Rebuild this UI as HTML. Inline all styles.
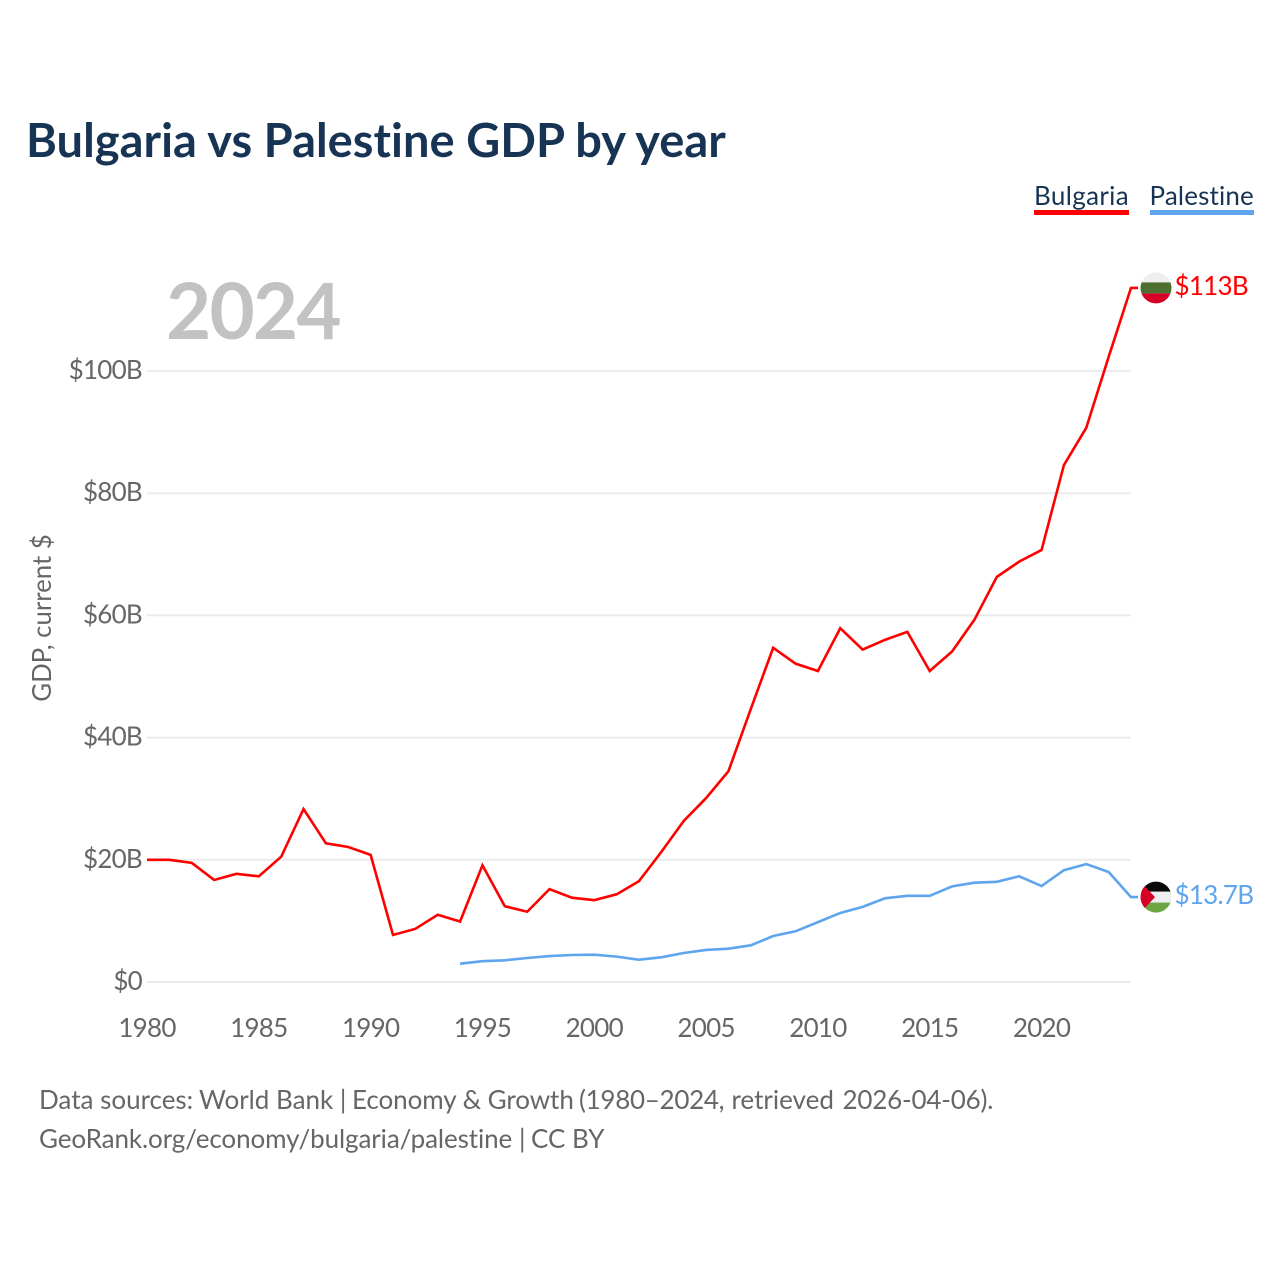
<!DOCTYPE html>
<html lang="en">
<head>
<meta charset="utf-8">
<title>Bulgaria vs Palestine GDP by year</title>
<style>
html,body{margin:0;padding:0;background:#fff;width:1280px;height:1280px;overflow:hidden}
svg{display:block}
text{font-family:"Lato","Carlito","Liberation Sans",sans-serif;font-variant-ligatures:none;font-variant-numeric:tabular-nums}
</style>
</head>
<body>
<svg id="chart" xmlns="http://www.w3.org/2000/svg" width="1280" height="1280" viewBox="0 0 1280 1280">
  <rect width="1280" height="1280" fill="#fff"/>
  <text x="26" y="157" font-size="47" font-weight="700" letter-spacing="0.03" fill="#173454">Bulgaria vs Palestine GDP by year</text>
  <g>
    <g>
      <text x="1034" y="205" font-size="26" letter-spacing="0.35" fill="#173454">Bulgaria</text>
      <rect x="1034" y="210" width="95" height="5" fill="#ff0000"/>
    </g>
    <g>
      <text x="1149.5" y="205" font-size="26" letter-spacing="0.15" fill="#173454">Palestine</text>
      <rect x="1150" y="210" width="104" height="5" fill="#5ea5ee"/>
    </g>
  </g>
  <text x="166" y="339" font-size="78" font-weight="700" letter-spacing="-1.8" fill="#c2c2c2">2024</text>
  <text transform="translate(51,618) rotate(-90)" text-anchor="middle" font-size="25.8" fill="#666">GDP, current $</text>
  <g id="grid"></g>
  <g id="yticks"></g>
  <g id="xticks"></g>
  <g id="series"></g>
  <defs>
    <clipPath id="clip-bg"><circle cx="0" cy="0" r="15.5"/></clipPath>
    <clipPath id="clip-ps"><circle cx="0" cy="0" r="15.5"/></clipPath>
  </defs>
  <g id="flag-bg">
    <g clip-path="url(#clip-bg)">
      <rect x="-16" y="-16" width="32" height="11" fill="#eeeeee"/>
      <rect x="-16" y="-5.5" width="32" height="11" fill="#4d6f2f"/>
      <rect x="-16" y="5.5" width="32" height="11" fill="#d80027"/>
    </g>
  </g>
  <g id="flag-ps">
    <g clip-path="url(#clip-ps)">
      <rect x="-16" y="-16" width="32" height="11" fill="#0a0a0a"/>
      <rect x="-16" y="-5.5" width="32" height="11" fill="#eeeeee"/>
      <rect x="-16" y="5.5" width="32" height="11" fill="#6da544"/>
      <polygon points="-16,-16 -16,16 -1,0" fill="#d80027"/>
    </g>
  </g>
  <text id="end-bg" x="1174.5" font-size="26" letter-spacing="-0.75" fill="#ff0000"></text>
  <text id="end-ps" x="1174.5" font-size="26" letter-spacing="-0.75" fill="#5ea5ee"></text>
  <text y="1109" font-size="26" fill="#666"><tspan x="39">Data sources:</tspan> <tspan x="199">World Bank |</tspan> <tspan x="352" letter-spacing="-0.06">Economy &amp; Growth</tspan> <tspan x="579" letter-spacing="-0.3">(1980–2024,</tspan> <tspan x="731.5">retrieved</tspan> <tspan x="842.5" letter-spacing="-0.2">2026-04-06).</tspan></text>
  <text y="1148" font-size="26" fill="#666"><tspan x="39" letter-spacing="-0.09">GeoRank.org/economy/bulgaria/palestine</tspan> <tspan x="519">|</tspan> <tspan x="531">CC BY</tspan></text>
</svg>
<script>
const years = [1980,1981,1982,1983,1984,1985,1986,1987,1988,1989,1990,1991,1992,1993,1994,1995,1996,1997,1998,1999,2000,2001,2002,2003,2004,2005,2006,2007,2008,2009,2010,2011,2012,2013,2014,2015,2016,2017,2018,2019,2020,2021,2022,2023,2024];
const bulgaria = [20.0,20.0,19.5,16.7,17.7,17.3,20.5,28.3,22.7,22.1,20.8,7.7,8.7,11.0,9.9,19.1,12.4,11.5,15.2,13.8,13.4,14.35,16.5,21.3,26.35,30.1,34.5,44.7,54.7,52.1,50.9,57.9,54.4,56.0,57.3,50.9,54.1,59.3,66.3,68.8,70.7,84.6,90.7,102.3,113.6];
const palestine = [null,null,null,null,null,null,null,null,null,null,null,null,null,null,3.0,3.4,3.55,3.93,4.25,4.42,4.47,4.15,3.65,4.04,4.75,5.24,5.45,6.0,7.53,8.3,9.8,11.3,12.3,13.7,14.1,14.1,15.65,16.25,16.4,17.3,15.7,18.3,19.3,18.0,13.9];
const yTickValues = [0,20,40,60,80,100];
const yTickLabels = ["$0","$20B","$40B","$60B","$80B","$100B"];
const xTickValues = [1980,1985,1990,1995,2000,2005,2010,2015,2020];
const endLabels = ["$113B","$13.7B"];

const NS = 'http://www.w3.org/2000/svg';
const xScale = function (year) { return 147 + (year - 1980) * (1131 - 147) / 44; };
const yScale = function (value) { return 982 - value * 6.11; };

function make(tag, parent) {
  const el = document.createElementNS(NS, tag);
  parent.appendChild(el);
  return el;
}

const grid = document.getElementById('grid');
const yticks = document.getElementById('yticks');
yTickValues.forEach(function (v, i) {
  const line = make('line', grid);
  
  
  line.setAttribute('x1', 147);
  line.setAttribute('x2', xScale(2024));
  line.setAttribute('y1', yScale(v));
  line.setAttribute('y2', yScale(v));
  line.setAttribute('stroke', '#ececec');
  line.setAttribute('stroke-width', '2');
  const label = make('text', yticks);
  
  
  label.setAttribute('x', 142);
  label.setAttribute('y', yScale(v) + 8);
  label.setAttribute('text-anchor', 'end');
  label.setAttribute('font-size', '26');
  label.setAttribute('letter-spacing', '-0.75');
  label.setAttribute('fill', '#666');
  label.textContent = yTickLabels[i];
});

const xticks = document.getElementById('xticks');
xTickValues.forEach(function (y) {
  const label = make('text', xticks);
  
  
  label.setAttribute('x', xScale(y));
  label.setAttribute('y', 1037);
  label.setAttribute('text-anchor', 'middle');
  label.setAttribute('font-size', '26');
  label.setAttribute('letter-spacing', '-0.75');
  label.setAttribute('fill', '#666');
  label.textContent = String(y);
});

function linePath(values) {
  let d = '';
  values.forEach(function (v, i) {
    if (v === null) return;
    d += (d ? 'L' : 'M') + xScale(years[i]).toFixed(2) + ' ' + yScale(v).toFixed(2);
  });
  const last = values[values.length - 1];
  d += 'L' + (xScale(years[years.length - 1]) + 7).toFixed(2) + ' ' + yScale(last).toFixed(2);
  return d;
}

const series = document.getElementById('series');
const redLine = make('path', series);


redLine.setAttribute('d', linePath(bulgaria));
redLine.setAttribute('fill', 'none');
redLine.setAttribute('stroke', '#ff0000');
redLine.setAttribute('stroke-width', '2.6');
redLine.setAttribute('stroke-linejoin', 'miter');

const blueLine = make('path', series);


blueLine.setAttribute('d', linePath(palestine));
blueLine.setAttribute('fill', 'none');
blueLine.setAttribute('stroke', '#5ea5ee');
blueLine.setAttribute('stroke-width', '2.6');

const bgLast = bulgaria[bulgaria.length - 1];
const psLast = palestine[palestine.length - 1];
document.getElementById('flag-bg').setAttribute('transform', 'translate(1156,' + yScale(bgLast) + ')');
document.getElementById('flag-ps').setAttribute('transform', 'translate(1156,' + yScale(psLast) + ')');
const endBg = document.getElementById('end-bg');
endBg.setAttribute('y', yScale(bgLast) + 7);
endBg.textContent = endLabels[0];
const endPs = document.getElementById('end-ps');
endPs.setAttribute('y', yScale(psLast) + 7);
endPs.textContent = endLabels[1];
</script>
</body>
</html>
